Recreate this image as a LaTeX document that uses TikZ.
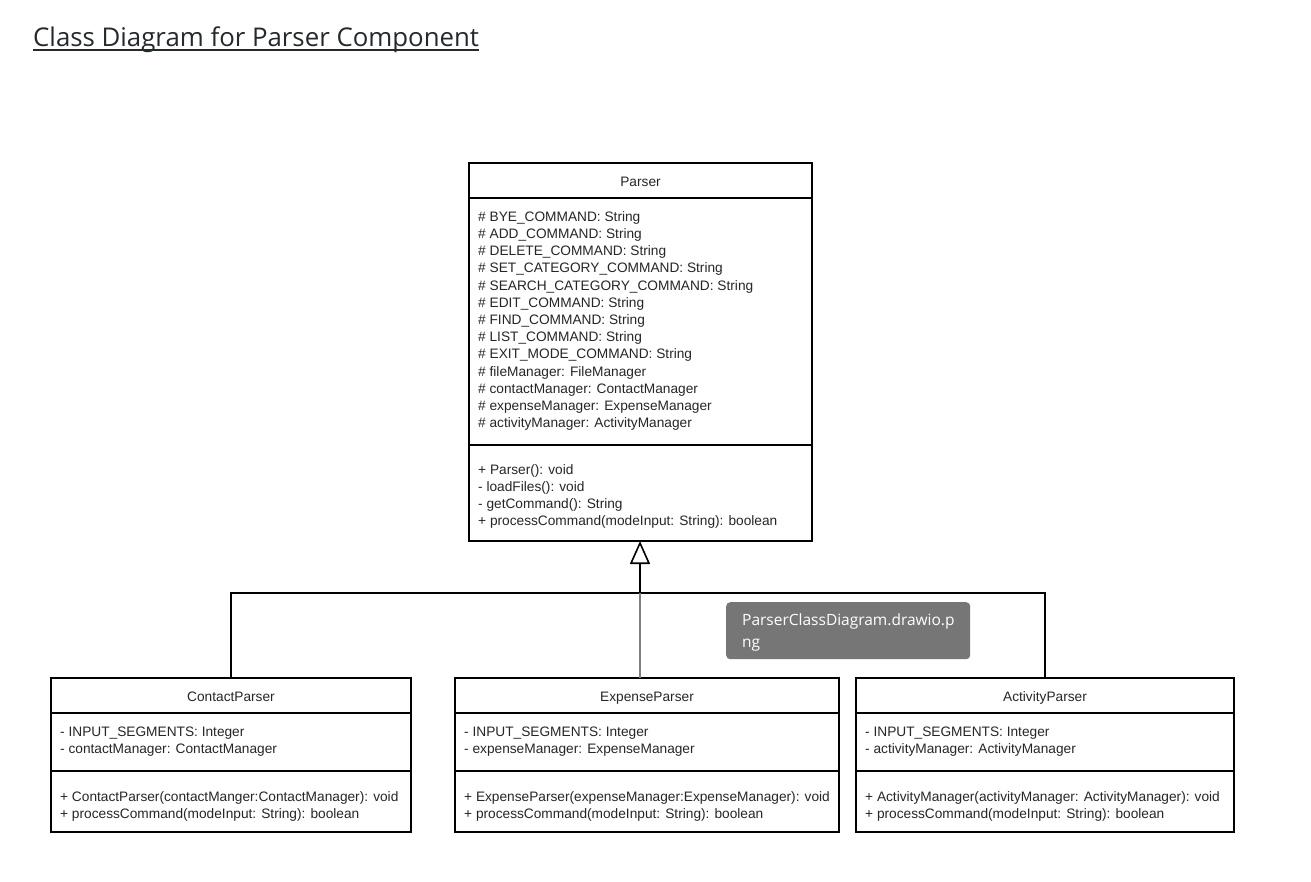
\documentclass[tikz,border=0pt]{standalone}
\usepackage{fontspec}
\setmainfont{Liberation Sans}
\newfontfamily\titlefont{Open Sans}
\usetikzlibrary{arrows.meta}
\definecolor{tipgray}{HTML}{767676}
\definecolor{linegray}{HTML}{808080}
\definecolor{titleink}{HTML}{24292E}
\begin{document}
\begin{tikzpicture}[x=1pt,y=-1pt,
  box/.style={draw=black, line width=1.3pt, anchor=north west, inner sep=0pt, outer sep=0pt},
  divider/.style={line width=1.3pt},
  txt/.style={anchor=north west, inner sep=0pt, align=left, text=black!85, font=\fontsize{13.7}{17.2}\selectfont},
  cname/.style={anchor=base, inner sep=0pt, text=black!85, font=\fontsize{13.7}{17.2}\selectfont},
  conn/.style={line width=1.6pt},
]
\fill[white] (0,0) rectangle (1311,881);
\useasboundingbox (0,0) rectangle (1311,881);

% title
\node[anchor=base west, inner sep=0pt, text=titleink, font=\titlefont\fontsize{25.8}{31}\selectfont] (title) at (33,46) {Class Diagram for Parser Component};
\draw[line width=2pt, titleink] (title.west |- 0,49.5) -- (title.east |- 0,49.5);

% Parser
\node[box, minimum width=343pt, minimum height=378pt] (parser) at (469,163) {};
\draw[divider] (parser.west |- 0,198) -- (parser.east |- 0,198);
\draw[divider] (parser.west |- 0,445) -- (parser.east |- 0,445);
\node[cname] (parsername) at (640.5,186) {Parser};
\node[txt] (parserattr) at (478,208) {\rule{0pt}{13pt}\# BYE\_COMMAND: String\\
\# ADD\_COMMAND: String\\
\# DELETE\_COMMAND: String\\
\# SET\_CATEGORY\_COMMAND: String\\
\# SEARCH\_CATEGORY\_COMMAND: String\\
\# EDIT\_COMMAND: String\\
\# FIND\_COMMAND: String\\
\# LIST\_COMMAND: String\\
\# EXIT\_MODE\_COMMAND: String\\
\# fileManager: FileManager\\
\# contactManager: ContactManager\\
\# expenseManager: ExpenseManager\\
\# activityManager: ActivityManager};
\node[txt] (parsermeth) at (478,461) {\rule{0pt}{13pt}+ Parser(): void\\
- loadFiles(): void\\
- getCommand(): String\\
+ processCommand(modeInput: String): boolean};

% ContactParser
\node[box, minimum width=360pt, minimum height=154pt] (contact) at (51,678) {};
\draw[divider] (contact.west |- 0,713) -- (contact.east |- 0,713);
\draw[divider] (contact.west |- 0,771) -- (contact.east |- 0,771);
\node[cname] (contactname) at (231,701) {ContactParser};
\node[txt] (contactattr) at (60,723) {\rule{0pt}{13pt}- INPUT\_SEGMENTS: Integer\\
- contactManager: ContactManager};
\node[txt] (contactmeth) at (60,788) {\rule{0pt}{13pt}+ ContactParser(contactManger:ContactManager): void\\
+ processCommand(modeInput: String): boolean};

% ExpenseParser
\node[box, minimum width=384pt, minimum height=154pt] (expense) at (455,678) {};
\draw[divider] (expense.west |- 0,713) -- (expense.east |- 0,713);
\draw[divider] (expense.west |- 0,771) -- (expense.east |- 0,771);
\node[cname] (expensename) at (647,701) {ExpenseParser};
\node[txt] (expenseattr) at (464,723) {\rule{0pt}{13pt}- INPUT\_SEGMENTS: Integer\\
- expenseManager: ExpenseManager};
\node[txt] (expensemeth) at (464,788) {\rule{0pt}{13pt}+ ExpenseParser(expenseManager:ExpenseManager): void\\
+ processCommand(modeInput: String): boolean};

% ActivityParser
\node[box, minimum width=378pt, minimum height=154pt] (activity) at (856,678) {};
\draw[divider] (activity.west |- 0,713) -- (activity.east |- 0,713);
\draw[divider] (activity.west |- 0,771) -- (activity.east |- 0,771);
\node[cname] (activityname) at (1045,701) {ActivityParser};
\node[txt] (activityattr) at (865,723) {\rule{0pt}{13pt}- INPUT\_SEGMENTS: Integer\\
- activityManager: ActivityManager};
\node[txt] (activitymeth) at (865,788) {\rule{0pt}{13pt}+ ActivityManager(activityManager: ActivityManager): void\\
+ processCommand(modeInput: String): boolean};

% connectors
\coordinate (j) at (640,593);
\draw[conn] (contact.north) |- (j);
\draw[conn] (activity.north) |- (j);
\draw[line width=2.6pt, draw=linegray] (expense.north -| j) -- (j);
\draw[conn, -{Triangle[open, length=23pt, width=20pt, line width=1.6pt]}] (j) -- (parser.south -| j);

% tooltip
\node[fill=tipgray, rounded corners=4pt, anchor=north west, inner sep=0pt, minimum width=244pt, minimum height=57pt] (tip) at (726,602) {};
\node[anchor=north west, inner sep=0pt, align=left, text=white, font=\titlefont\fontsize{15.5}{22}\selectfont] (tiptext) at (742,611) {\rule{0pt}{14pt}ParserClassDiagram.drawio.p\\ng};
\end{tikzpicture}
\end{document}
